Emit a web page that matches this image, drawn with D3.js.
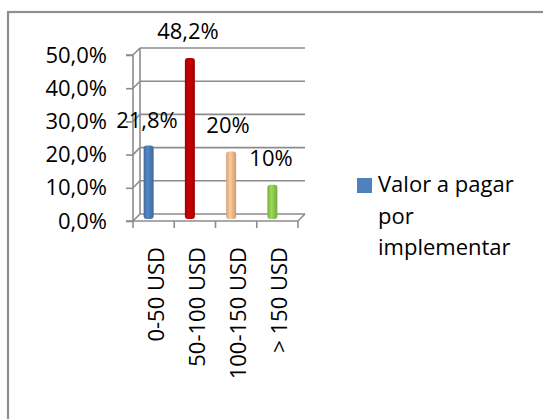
<!DOCTYPE html>
<html><head><meta charset="utf-8">
<script src="https://cdn.jsdelivr.net/npm/d3@7"></script>
<style>body{margin:0;background:#fff}svg{display:block}text{font-family:"Open Sans",sans-serif;fill:#000}</style>
</head><body><svg id="c" width="543" height="419"></svg>
<script>
const categories = ["0-50 USD","50-100 USD","100-150 USD","> 150 USD"];
const values = [21.8, 48.2, 20, 10];
const valueLabels = ["21,8%","48,2%","20%","10%"];
const colors = ["#4F81BD","#C00000","#FAC090","#92D050"];
const yTicks = [0,10,20,30,40,50];
const seriesName = ["Valor a pagar","por","implementar"];

const svg = d3.select("#c");
const W=543,H=419;
// border
svg.append("rect").attr("x",8).attr("y",12).attr("width",W).attr("height",H)
  .attr("fill","none").attr("stroke","#8f8f8f").attr("stroke-width",2.2);

const x0=133, x1=298, dx=7, dy=-7;
const x = d3.scaleBand().domain(categories).range([x0,x1]);
const y = d3.scaleLinear().domain([0,50]).range([221,55]);
const g = svg.append("g");
const grid="#8c8c8c";
// back wall gridlines
yTicks.forEach(t=>{
  g.append("line").attr("x1",x0+dx).attr("x2",x1+dx).attr("y1",y(t)+dy).attr("y2",y(t)+dy)
    .attr("stroke",grid).attr("stroke-width",1.6);
  g.append("line").attr("x1",x0).attr("x2",x0+dx).attr("y1",y(t)).attr("y2",y(t)+dy)
    .attr("stroke",grid).attr("stroke-width",1.6);
});
// left wall back line
g.append("line").attr("x1",x0+dx).attr("x2",x0+dx).attr("y1",y(50)+dy).attr("y2",y(0)+dy).attr("stroke",grid).attr("stroke-width",1.6);
// floor front and right edge
g.append("line").attr("x1",x0).attr("x2",x1).attr("y1",y(0)).attr("y2",y(0)).attr("stroke",grid).attr("stroke-width",1.6);
g.append("line").attr("x1",x1).attr("x2",x1+dx).attr("y1",y(0)).attr("y2",y(0)+dy).attr("stroke",grid).attr("stroke-width",1.6);

// y axis
const yAxis = d3.axisLeft(y).tickValues(yTicks).tickSize(7).tickPadding(19)
  .tickFormat(d=>d3.format(".1f")(d).replace(".",",")+"%");
const ya = svg.append("g").attr("transform",`translate(${x0},0)`).call(yAxis);
ya.select(".domain").attr("stroke",grid).attr("stroke-width",1.6).attr("d",`M-7,${y(50)}H0V${y(0)}H-7`);
ya.selectAll(".tick line").attr("stroke",grid).attr("stroke-width",1.6);
ya.selectAll(".tick text").attr("font-size",22).attr("font-family","Open Sans").attr("fill","#000");

// x axis
const xa = svg.append("g").attr("transform",`translate(0,${y(0)})`);
const edges = categories.map(c=>x(c)).concat([x1]);
edges.forEach(e=>xa.append("line").attr("x1",e).attr("x2",e).attr("y1",0).attr("y2",7).attr("stroke",grid).attr("stroke-width",1.6));
categories.forEach(c=>{
  xa.append("text").attr("transform",`translate(${x(c)+x.bandwidth()/2+10},26) rotate(-90)`)
    .attr("text-anchor","end").attr("font-size",22).text(c);
});

// bars
const defs = svg.append("defs");
colors.forEach((c,i)=>{
  const gr = defs.append("linearGradient").attr("id","gb"+i).attr("x1","0").attr("x2","1");
  const col=d3.color(c);
  gr.append("stop").attr("offset","0").attr("stop-color",col.darker(0.5));
  gr.append("stop").attr("offset","0.4").attr("stop-color",col.brighter(0.15));
  gr.append("stop").attr("offset","1").attr("stop-color",col.darker(0.6));
});
const bw=10;
categories.forEach((c,i)=>{
  const cx = x(c)+x.bandwidth()/2-5;
  const top = y(values[i])-3;
  const bot = y(0)-2;
  svg.append("rect").attr("x",cx-bw/2).attr("y",top).attr("width",bw).attr("height",bot-top)
    .attr("rx",3).attr("fill",`url(#gb${i})`);
});
// value labels
const labelPos = [[147,128],[188,39],[228,133],[271,166]];
valueLabels.forEach((l,i)=>{
  svg.append("text").attr("x",labelPos[i][0]).attr("y",labelPos[i][1]).attr("text-anchor","middle")
    .attr("font-size",22).text(l);
});
// legend
svg.append("rect").attr("x",357).attr("y",178).attr("width",15).attr("height",15).attr("fill",colors[0]);
seriesName.forEach((s,i)=>{
  svg.append("text").attr("x",378).attr("y",192+i*31.5).attr("font-size",22).text(s);
});
</script></body></html>
